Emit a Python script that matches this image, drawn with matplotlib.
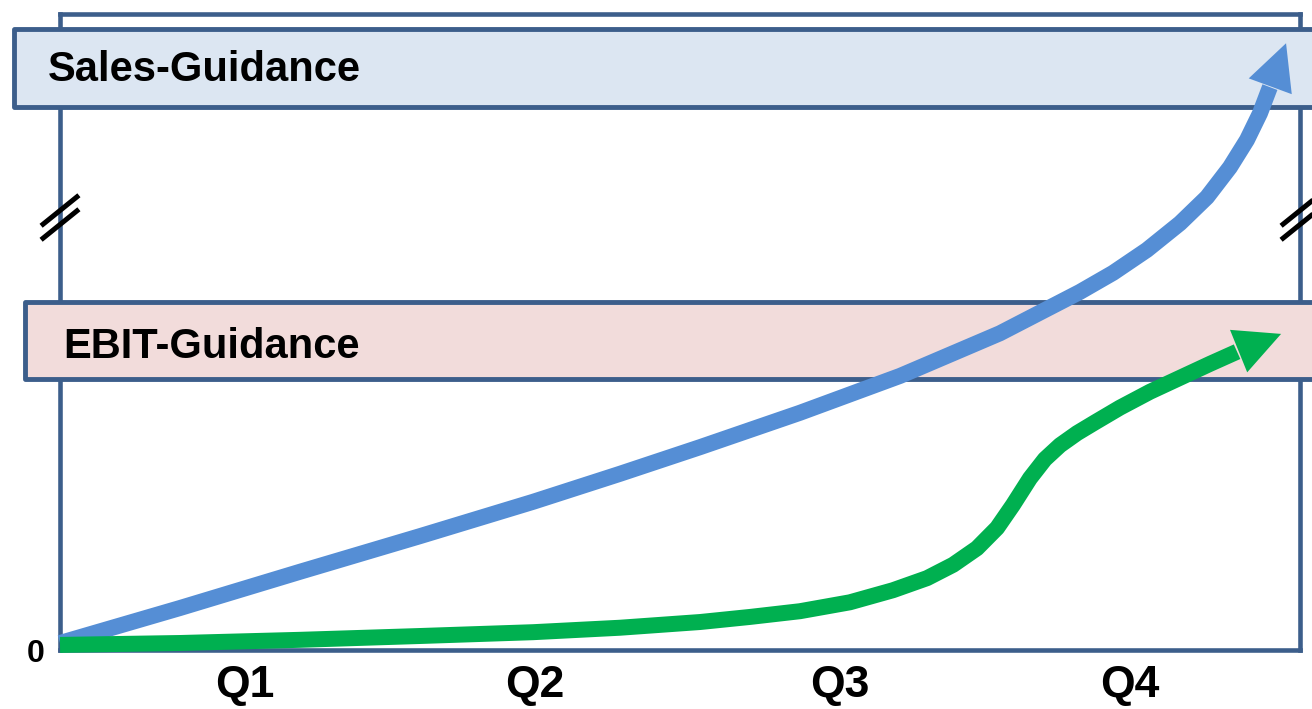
#!/usr/bin/env python3
"""Guidance chart: sales and EBIT trajectories over the four quarters."""

import matplotlib
matplotlib.use("Agg")
import matplotlib.pyplot as plt
from matplotlib.patches import Rectangle, FancyArrowPatch
from matplotlib.transforms import offset_copy

plt.rcParams["font.family"] = ["Liberation Sans", "DejaVu Sans"]

# x in quarters (0 = start of year, 4 = end), y in % of the axis height
quarters = ["Q1", "Q2", "Q3", "Q4"]
quarter_pos = [0.597, 1.532, 2.516, 3.452]

sales_x = [0.000, 0.387, 0.774, 1.161, 1.526, 1.806, 2.065, 2.387, 2.710,
           3.032, 3.290, 3.397, 3.506, 3.613, 3.700, 3.774, 3.829, 3.871,
           3.903, 3.955]
sales_y = [1.1, 6.6, 12.3, 17.9, 23.3, 27.7, 31.9, 37.3, 43.1,
           49.8, 56.3, 59.3, 62.9, 67.1, 71.2, 75.9, 80.2, 84.4,
           88.5, 95.4]

ebit_x = [0.000, 0.387, 0.774, 1.161, 1.526, 1.806, 2.065, 2.226, 2.387,
          2.548, 2.687, 2.797, 2.881, 2.958, 3.023, 3.074, 3.129, 3.177,
          3.226, 3.281, 3.339, 3.419, 3.516, 3.613, 3.710, 3.797, 3.939]
ebit_y = [0.8, 1.1, 1.6, 2.2, 2.8, 3.5, 4.4, 5.2, 6.1,
          7.5, 9.4, 11.3, 13.4, 16.0, 19.2, 22.8, 27.0, 30.0,
          32.2, 34.1, 35.8, 38.1, 40.6, 42.8, 45.0, 46.9, 49.7]

# guidance bands: (label, bottom, top, left edge)
sales_band = ("Sales-Guidance", 85.4, 97.6, -0.148)
ebit_band = ("EBIT-Guidance", 42.6, 54.7, -0.113)
break_level = 68.0

FRAME = "#3C5E8B"
BLUE = "#558ED5"
GREEN = "#00B050"


def draw_band(ax, band, face, text_x, text_y):
    label, lo, hi, left = band
    ax.add_patch(Rectangle((left, lo), 4.5 - left, hi - lo, facecolor=face,
                           edgecolor=FRAME, linewidth=3.5, joinstyle="round",
                           clip_on=False, zorder=3))
    ax.text(text_x, text_y, label, fontsize=30, fontweight="bold",
            va="baseline", ha="left", zorder=3.5)


def draw_trend(ax, xs, ys, color):
    # shaft up to the head base, then a filled head to the tip
    ax.plot(xs[:-1], ys[:-1], color=color, linewidth=11.5,
            solid_capstyle="butt", solid_joinstyle="round", zorder=4,
            clip_on=False)
    head = FancyArrowPatch((xs[-2], ys[-2]), (xs[-1], ys[-1]),
                           arrowstyle="-|>,head_length=33,head_width=16.5",
                           mutation_scale=1, shrinkA=0, shrinkB=0,
                           linewidth=0, color=color, zorder=4.5,
                           clip_on=False)
    ax.add_patch(head)


def draw_break(ax, x, y):
    # "//" marker crossing the vertical axis line
    for dy in (7, -7):
        tr = offset_copy(ax.transData, fig=ax.figure, x=0, y=dy, units="dots")
        ax.plot([x - 0.061, x + 0.061], [y - 2.4, y + 2.4], color="black",
                linewidth=3.6, solid_capstyle="butt", transform=tr,
                clip_on=False, zorder=5)


fig = plt.figure(figsize=(13.12, 7.09), dpi=100)
ax = fig.add_axes([60 / 1312, 59 / 709, 1240 / 1312, 636 / 709])
ax.set_xlim(0, 4)
ax.set_ylim(0, 100)

for sp in ax.spines.values():
    sp.set_color(FRAME)
    sp.set_linewidth(3.3)
    sp.set_capstyle("projecting")

draw_band(ax, sales_band, "#DCE6F2", -0.039, 89.5)
draw_band(ax, ebit_band, "#F2DCDB", 0.01, 45.9)

draw_trend(ax, sales_x, sales_y, BLUE)
draw_trend(ax, ebit_x, ebit_y, GREEN)

draw_break(ax, 0.0, break_level)
draw_break(ax, 4.0, break_level)

ax.set_xticks(quarter_pos, quarters, fontsize=32, fontweight="bold")
ax.set_yticks([0], ["0"], fontsize=23, fontweight="bold")
ax.tick_params(axis="x", length=0, pad=11)
ax.tick_params(axis="y", length=0, pad=11)

fig.savefig("out.png", dpi=100)
